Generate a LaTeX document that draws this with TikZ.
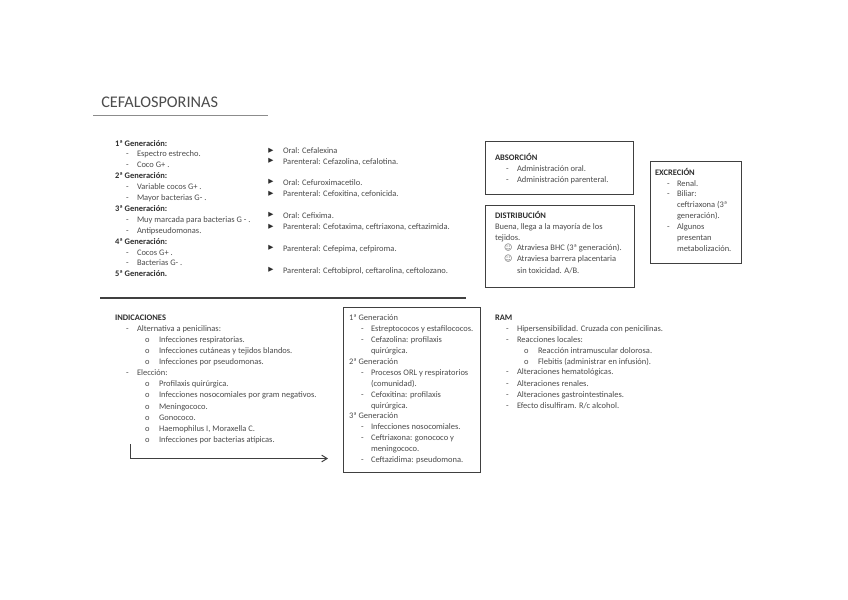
\documentclass[tikz,border=0pt]{standalone}
\usepackage{fontspec}
\setmainfont{Carlito}
\newfontfamily\symfont{DejaVu Sans}
\usetikzlibrary{arrows.meta}
\definecolor{txt}{gray}{0.30}
\definecolor{txtb}{gray}{0.18}
\definecolor{frame}{gray}{0.25}
\tikzset{
  x=0.75pt,y=-0.75pt,
  line/.style={anchor=mid west,inner sep=0pt,outer sep=0pt,text=txt,font=\fontsize{6.35}{7}\selectfont},
  head/.style={line,text=txtb,font=\fontsize{6.35}{7}\selectfont\bfseries},
  mark/.style={line,font=\fontsize{6.35}{7}\selectfont},
  smile/.style={line,font=\symfont\fontsize{6}{7}\selectfont,text=black!60},
  tri/.style={anchor=center,inner sep=0pt,text=txtb,font=\symfont\fontsize{5}{6}\selectfont},
  title/.style={anchor=mid west,inner sep=0pt,text=black!70,font=\fontsize{12.2}{14}\selectfont},
  panel/.style={draw=frame,line width=0.8pt,inner sep=0pt,anchor=north west},
  thinrule/.style={draw=black!45,line width=0.6pt},
  heavyrule/.style={draw=black!75,line width=0.9pt},
  flow/.style={draw=black!75,line width=0.75pt,-{Straight Barb[length=4pt,width=5pt]}},
}
\newcounter{tn}
\newcommand{\tl}[4][line]{\stepcounter{tn}\node[#1] (t\arabic{tn}) at (#2,#3) {#4};}
% dash + text
\newcommand{\dl}[4]{\tl{#1}{#3}{-}\tl{#2}{#3}{#4}}
% bullet "o" + text
\newcommand{\ol}[4]{\tl{#1}{#3}{o}\tl{#2}{#3}{#4}}
% triangle + text
\newcommand{\pl}[2]{\stepcounter{tn}\node[tri] (t\arabic{tn}) at (271,#1) {▶};\tl{283}{#1}{#2}}
\newcommand{\sm}[2]{\stepcounter{tn}\node[smile] (t\arabic{tn}) at (504,#1) {☺};\tl{517}{#1}{#2}}
\begin{document}
\begin{tikzpicture}
\useasboundingbox (0,0) rectangle (848,599);
\fill[white] (0,0) rectangle (848,599);

% title
\node[title] (ttl) at (101,104) {CEFALOSPORINAS};
\coordinate (r1a) at (93,115.5); \coordinate (r1b) at (268,115.5);
\draw[thinrule] (r1a) -- (r1b);

% generations
\tl[head]{115}{143}{1ª Generación:}
\dl{126}{137}{153.5}{Espectro estrecho.}
\dl{126}{137}{164}{Coco G+ .}
\tl[head]{115}{175}{2ª Generación:}
\dl{126}{137}{186}{Variable cocos G+ .}
\dl{126}{137}{197}{Mayor bacterias G- .}
\tl[head]{115}{208}{3ª Generación:}
\dl{126}{137}{219}{Muy marcada para bacterias G - .}
\dl{126}{137}{230}{Antipseudomonas.}
\tl[head]{115}{241}{4ª Generación:}
\dl{126}{137}{252}{Cocos G+ .}
\dl{126}{137}{262.5}{Bacterias G- .}
\tl[head]{115}{273}{5ª Generación.}

% drugs
\pl{150.5}{Oral: Cefalexina}
\pl{161}{Parenteral: Cefazolina, cefalotina.}
\pl{182}{Oral: Cefuroximacetilo.}
\pl{193.5}{Parenteral: Cefoxitina, cefonicida.}
\pl{215}{Oral: Cefixima.}
\pl{226.5}{Parenteral: Cefotaxima, ceftriaxona, ceftazimida.}
\pl{248}{Parenteral: Cefepima, cefpiroma.}
\pl{270}{Parenteral: Ceftobiprol, ceftarolina, ceftolozano.}

% absorcion
\node[panel,minimum width=111.4pt,minimum height=39.4pt] (abs) at (484.5,141) {};
\tl[head]{495}{157}{ABSORCIÓN}
\dl{506}{517}{168}{Administración oral.}
\dl{506}{517}{179}{Administración parenteral.}

% distribucion
\node[panel,minimum width=111.7pt,minimum height=61.5pt] (dis) at (485,205) {};
\tl[head]{495}{215}{DISTRIBUCIÓN}
\tl{495}{226}{Buena, llega a la mayoría de los}
\tl{495}{237}{tejidos.}
\sm{247.5}{Atraviesa BHC (3ª generación).}
\sm{258.5}{Atraviesa barrera placentaria}
\tl{517}{270}{sin toxicidad. A/B.}

% excrecion
\node[panel,minimum width=68.2pt,minimum height=76.5pt] (exc) at (650,161) {};
\tl[head]{655}{172}{EXCRECIÓN}
\dl{667}{677}{183}{Renal.}
\dl{667}{677}{193.5}{Biliar:}
\tl{677}{204.5}{ceftriaxona (3ª}
\tl{677}{215}{generación).}
\dl{667}{677}{226.5}{Algunos}
\tl{677}{237.5}{presentan}
\tl{677}{248}{metabolización.}

% divider
\coordinate (r2a) at (100,298); \coordinate (r2b) at (466,298);
\draw[heavyrule] (r2a) -- (r2b);

% indicaciones
\tl[head]{115}{317}{INDICACIONES}
\dl{126}{137}{328}{Alternativa a penicilinas:}
\ol{145}{159}{339}{Infecciones respiratorias.}
\ol{145}{159}{350.5}{Infecciones cutáneas y tejidos blandos.}
\ol{145}{159}{361.5}{Infecciones por pseudomonas.}
\dl{126}{137}{372.5}{Elección:}
\ol{145}{159}{383.5}{Profilaxis quirúrgica.}
\ol{145}{159}{394.5}{Infecciones nosocomiales por gram negativos.}
\ol{145}{159}{406}{Meningococo.}
\ol{145}{159}{417}{Gonococo.}
\ol{145}{159}{428.5}{Haemophilus I, Moraxella C.}
\ol{145}{159}{439.5}{Infecciones por bacterias atípicas.}

% arrow
\coordinate (fa) at (130,444); \coordinate (fb) at (328,458.5);
\draw[flow] (fa) |- (fb);

% generaciones box
\node[panel,minimum width=102.8pt,minimum height=123.8pt] (gen) at (343,307) {};
\tl{349}{317}{1ª Generación}
\dl{361}{371}{328}{Estreptococos y estafilococos.}
\dl{361}{371}{339}{Cefazolina: profilaxis}
\tl{371}{350.5}{quirúrgica.}
\tl{349}{361}{2ª Generación}
\dl{361}{371}{372.5}{Procesos ORL y respiratorios}
\tl{371}{383}{(comunidad).}
\dl{361}{371}{394}{Cefoxitina: profilaxis}
\tl{371}{405}{quirúrgica.}
\tl{349}{415.5}{3ª Generación}
\dl{361}{371}{426}{Infecciones nosocomiales.}
\dl{361}{371}{437.5}{Ceftriaxona: gonococo y}
\tl{371}{448.5}{meningococo.}
\dl{361}{371}{459}{Ceftazidima: pseudomona.}

% RAM
\tl[head]{495}{317}{RAM}
\dl{506}{517}{328.5}{Hipersensibilidad. Cruzada con penicilinas.}
\dl{506}{517}{339}{Reacciones locales:}
\ol{524}{538}{350}{Reacción intramuscular dolorosa.}
\ol{524}{538}{361}{Flebitis (administrar en infusión).}
\dl{506}{517}{371.5}{Alteraciones hematológicas.}
\dl{506}{517}{383}{Alteraciones renales.}
\dl{506}{517}{394}{Alteraciones gastrointestinales.}
\dl{506}{517}{405}{Efecto disulfiram. R/c alcohol.}
\end{tikzpicture}
\end{document}
